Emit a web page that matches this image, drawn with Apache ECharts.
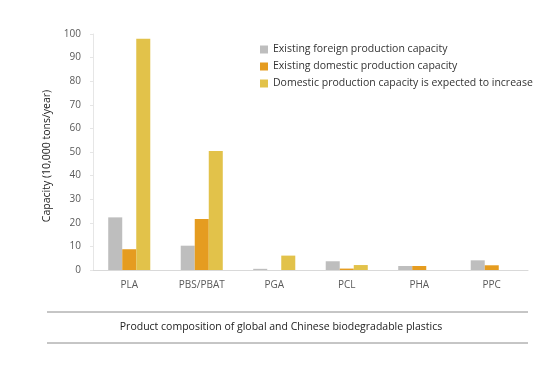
<!DOCTYPE html>
<html><head><meta charset="utf-8">
<script src="https://cdn.jsdelivr.net/npm/echarts@6/dist/echarts.min.js"></script>
<style>html,body{margin:0;padding:0;background:#fff}#c{width:550px;height:370px}</style>
</head><body><div id="c"></div>
<script>
const categories = ['PLA', 'PBS/PBAT', 'PGA', 'PCL', 'PHA', 'PPC'];
const foreignExisting = [22.3, 10.3, 0.5, 3.7, 1.7, 4.1];
const domesticExisting = [8.8, 21.6, 0, 0.6, 1.7, 2.0];
const domesticIncrease = [98.0, 50.4, 6.1, 2.1, 0, 0];
const seriesNames = ['Existing foreign production capacity', 'Existing domestic production capacity', 'Domestic production capacity is expected to increase'];
const yAxisName = 'Capacity (10,000 tons/year)';
const footTitle = 'Product composition of global and Chinese biodegradable plastics';

const colors = ['#BEBEBE', '#E59C20', '#E2C24A'];
const chart = echarts.init(document.getElementById('c'), null, {renderer: 'canvas'});
const font = '"Open Sans", "Noto Sans", sans-serif';
chart.setOption({
  animation: false,
  textStyle: {fontFamily: font},
  grid: {left: 93, right: 22, top: 34, bottom: 100, containLabel: false},
  legend: {
    orient: 'vertical', left: 255, top: 39, itemWidth: 8, itemHeight: 8, itemGap: 6,
    icon: 'rect',
    textStyle: {fontSize: 10.5, color: '#333', fontFamily: font},
    data: seriesNames
  },
  xAxis: {
    type: 'category', data: categories,
    axisLine: {lineStyle: {color: '#D9D9D9'}},
    axisTick: {show: false},
    axisLabel: {color: '#595959', fontSize: 10, margin: 10, fontFamily: font}
  },
  yAxis: {
    type: 'value', min: 0, max: 100, interval: 10,
    name: yAxisName, nameLocation: 'middle', nameGap: 31, nameRotate: 90,
    nameTextStyle: {color: '#222', fontSize: 10.5, fontFamily: font, padding: [0, 8, 0, 0]},
    axisLine: {show: true, lineStyle: {color: '#E6E6E6'}},
    axisTick: {show: true, length: 3, lineStyle: {color: '#E6E6E6'}},
    splitLine: {show: false},
    axisLabel: {color: '#595959', fontSize: 10, margin: 12, fontFamily: font}
  },
  series: [
    {name: seriesNames[0], type: 'bar', data: foreignExisting, itemStyle: {color: colors[0]}, barGap: '0%', barCategoryGap: '42%'},
    {name: seriesNames[1], type: 'bar', data: domesticExisting, itemStyle: {color: colors[1]}, barGap: '0%', barCategoryGap: '42%'},
    {name: seriesNames[2], type: 'bar', data: domesticIncrease, itemStyle: {color: colors[2]}, barGap: '0%', barCategoryGap: '42%'}
  ],
  graphic: [
    {type: 'line', shape: {x1: 47, y1: 312, x2: 528, y2: 312}, style: {stroke: '#8C8C8C', lineWidth: 1}},
    {type: 'line', shape: {x1: 47, y1: 343, x2: 528, y2: 343}, style: {stroke: '#8C8C8C', lineWidth: 1}},
    {type: 'text', x: 281, y: 327, style: {text: footTitle, align: 'center', verticalAlign: 'middle', fill: '#222', font: '10.5px ' + font}}
  ]
});
</script></body></html>
